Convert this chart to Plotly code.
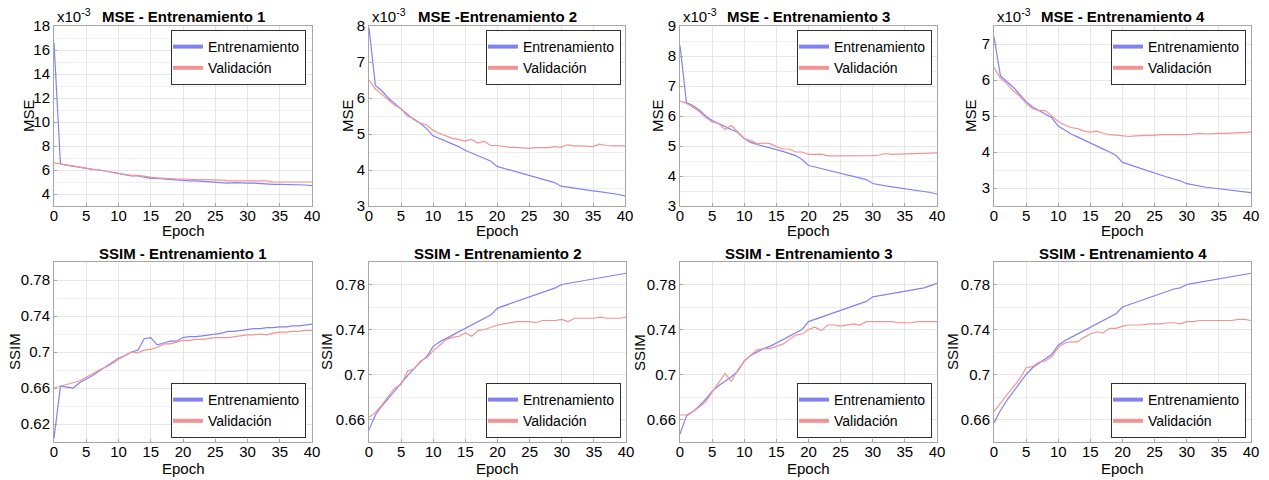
import plotly.graph_objects as go

# ---------------- data ----------------
epochs = list(range(0, 41))

# MSE values in units of 1e-3
mse1_train = [16.6, 6.5, 6.4, 6.3, 6.25, 6.15, 6.05, 6.0, 5.9, 5.8,
              5.7, 5.6, 5.5, 5.5, 5.4, 5.3, 5.3, 5.25, 5.2, 5.15,
              5.1, 5.1, 5.1, 5.05, 5.0, 5.0, 4.95, 4.9, 4.95, 4.9,
              4.9, 4.9, 4.85, 4.8, 4.8, 4.8, 4.8, 4.8, 4.8, 4.75,
              4.7]
mse1_val = [6.6, 6.5, 6.45, 6.35, 6.25, 6.1, 6.05, 6.0, 5.9, 5.8,
            5.7, 5.6, 5.55, 5.55, 5.45, 5.4, 5.35, 5.3, 5.25, 5.25,
            5.25, 5.2, 5.2, 5.2, 5.2, 5.2, 5.15, 5.1, 5.1, 5.1,
            5.1, 5.1, 5.1, 5.1, 5.0, 5.0, 5.0, 5.0, 5.0, 5.0,
            5.0]
mse2_train = [7.95, 6.35, 6.2, 6.0, 5.85, 5.7, 5.55, 5.4, 5.3, 5.15,
              4.95, 4.88, 4.8, 4.72, 4.65, 4.55, 4.48, 4.4, 4.33, 4.25,
              4.1, 4.05, 4.0, 3.95, 3.9, 3.85, 3.8, 3.75, 3.7, 3.65,
              3.55, 3.52, 3.5, 3.47, 3.45, 3.42, 3.4, 3.38, 3.35, 3.32,
              3.28]
mse2_val = [6.5, 6.25, 6.1, 5.95, 5.8, 5.7, 5.5, 5.42, 5.3, 5.25,
            5.1, 5.02, 4.95, 4.88, 4.85, 4.8, 4.85, 4.75, 4.8, 4.68,
            4.68, 4.65, 4.63, 4.63, 4.62, 4.6, 4.62, 4.62, 4.62, 4.65,
            4.63, 4.7, 4.67, 4.67, 4.65, 4.65, 4.72, 4.68, 4.67, 4.67,
            4.67]
mse3_train = [8.35, 6.45, 6.35, 6.2, 6.0, 5.85, 5.75, 5.65, 5.55, 5.45,
              5.25, 5.12, 5.05, 5.0, 4.95, 4.88, 4.82, 4.75, 4.68, 4.55,
              4.35, 4.3, 4.25, 4.2, 4.15, 4.1, 4.05, 4.0, 3.95, 3.88,
              3.75, 3.7, 3.67, 3.64, 3.61, 3.58, 3.55, 3.52, 3.49, 3.45,
              3.4]
mse3_val = [6.5, 6.42, 6.3, 6.15, 5.95, 5.8, 5.75, 5.55, 5.68, 5.45,
            5.25, 5.18, 5.08, 5.1, 5.08, 4.98, 4.9, 4.9, 4.8, 4.8,
            4.72, 4.72, 4.73, 4.67, 4.67, 4.68, 4.68, 4.67, 4.68, 4.68,
            4.68, 4.7, 4.75, 4.72, 4.73, 4.73, 4.75, 4.75, 4.75, 4.78,
            4.77]
mse4_train = [7.2, 6.12, 5.95, 5.8, 5.6, 5.4, 5.25, 5.15, 5.05, 4.95,
              4.72, 4.6, 4.5, 4.42, 4.33, 4.25, 4.17, 4.08, 4.0, 3.9,
              3.71, 3.65, 3.58, 3.52, 3.46, 3.4, 3.35, 3.3, 3.25, 3.2,
              3.12, 3.08, 3.05, 3.02, 3.0, 2.98, 2.96, 2.94, 2.92, 2.9,
              2.87]
mse4_val = [6.35, 6.05, 5.9, 5.7, 5.55, 5.35, 5.2, 5.15, 5.15, 5.0,
            4.85, 4.75, 4.68, 4.65, 4.58, 4.55, 4.58, 4.52, 4.48, 4.47,
            4.45, 4.43, 4.45, 4.45, 4.46, 4.47, 4.48, 4.48, 4.47, 4.48,
            4.48, 4.5, 4.52, 4.5, 4.52, 4.52, 4.52, 4.53, 4.54, 4.56,
            4.55]

ssim1_train = [0.604, 0.662, 0.661, 0.660, 0.666, 0.670, 0.674, 0.679, 0.684, 0.688,
               0.693, 0.696, 0.700, 0.702, 0.715, 0.716, 0.708, 0.710, 0.712, 0.712,
               0.716, 0.717, 0.717, 0.718, 0.719, 0.720, 0.721, 0.723, 0.723, 0.724,
               0.725, 0.726, 0.726, 0.727, 0.727, 0.728, 0.728, 0.729, 0.729, 0.730,
               0.731]
ssim1_val = [0.660, 0.662, 0.664, 0.666, 0.668, 0.672, 0.676, 0.680, 0.683, 0.687,
             0.692, 0.696, 0.700, 0.699, 0.702, 0.703, 0.705, 0.709, 0.709, 0.711,
             0.713, 0.713, 0.714, 0.714, 0.715, 0.716, 0.716, 0.716, 0.717, 0.718,
             0.719, 0.719, 0.720, 0.719, 0.721, 0.722, 0.722, 0.723, 0.723, 0.724,
             0.724]
ssim2_train = [0.651, 0.664, 0.672, 0.679, 0.686, 0.692, 0.699, 0.705, 0.711, 0.716,
               0.725, 0.729, 0.732, 0.735, 0.738, 0.741, 0.744, 0.747, 0.750, 0.753,
               0.759, 0.761, 0.763, 0.765, 0.767, 0.769, 0.771, 0.773, 0.775, 0.777,
               0.780, 0.781, 0.782, 0.783, 0.784, 0.785, 0.786, 0.787, 0.788, 0.789,
               0.790]
ssim2_val = [0.662, 0.666, 0.673, 0.681, 0.688, 0.691, 0.703, 0.705, 0.712, 0.715,
             0.721, 0.726, 0.731, 0.733, 0.734, 0.737, 0.734, 0.739, 0.740, 0.742,
             0.744, 0.745, 0.746, 0.747, 0.747, 0.747, 0.746, 0.748, 0.748, 0.748,
             0.749, 0.747, 0.750, 0.750, 0.750, 0.750, 0.751, 0.750, 0.750, 0.750,
             0.751]
ssim3_train = [0.647, 0.663, 0.667, 0.672, 0.678, 0.685, 0.690, 0.694, 0.698, 0.703,
               0.712, 0.717, 0.720, 0.723, 0.725, 0.728, 0.731, 0.734, 0.737, 0.740,
               0.747, 0.749, 0.751, 0.753, 0.755, 0.757, 0.759, 0.761, 0.763, 0.765,
               0.769, 0.770, 0.771, 0.772, 0.773, 0.774, 0.775, 0.776, 0.777, 0.779,
               0.781]
ssim3_val = [0.664, 0.664, 0.667, 0.671, 0.676, 0.684, 0.692, 0.701, 0.694, 0.704,
             0.712, 0.717, 0.722, 0.723, 0.723, 0.725, 0.727, 0.731, 0.735, 0.736,
             0.740, 0.742, 0.739, 0.744, 0.744, 0.743, 0.744, 0.745, 0.744, 0.747,
             0.747, 0.747, 0.747, 0.747, 0.746, 0.746, 0.746, 0.747, 0.747, 0.747,
             0.747]
ssim4_train = [0.657, 0.668, 0.677, 0.685, 0.692, 0.700, 0.706, 0.710, 0.714, 0.718,
               0.726, 0.730, 0.733, 0.736, 0.739, 0.742, 0.745, 0.748, 0.751, 0.754,
               0.760, 0.762, 0.764, 0.766, 0.768, 0.770, 0.772, 0.774, 0.776, 0.777,
               0.780, 0.781, 0.782, 0.783, 0.784, 0.785, 0.786, 0.787, 0.788, 0.789,
               0.790]
ssim4_val = [0.667, 0.675, 0.682, 0.689, 0.696, 0.706, 0.707, 0.711, 0.712, 0.716,
             0.724, 0.728, 0.729, 0.729, 0.733, 0.736, 0.738, 0.737, 0.741, 0.741,
             0.743, 0.744, 0.744, 0.744, 0.745, 0.745, 0.745, 0.746, 0.746, 0.745,
             0.747, 0.747, 0.748, 0.748, 0.748, 0.748, 0.748, 0.748, 0.749, 0.749,
             0.748]

titles = ["MSE - Entrenamiento 1", "MSE -Entrenamiento 2", "MSE - Entrenamiento 3",
          "MSE - Entrenamiento 4", "SSIM - Entrenamiento 1", "SSIM - Entrenamiento 2",
          "SSIM - Entrenamiento 3", "SSIM - Entrenamiento 4"]
series_names = ["Entrenamiento", "Validación"]
x_label = "Epoch"
exp_label = "x10<sup>-3</sup>"

# ---------------- styling / layout ----------------
W, H = 1269, 480
FONT = "Arial, Liberation Sans, sans-serif"
BLUE = "#8282f4"
RED = "#f39494"
AXIS = "#a6a6a6"
GRID = "#e6e6e6"
MINOR = "#eeeeee"

panels = [
    dict(tr=mse1_train, va=mse1_val, yl="MSE", yr=[3, 18], t0=0, dt=2, mdt=1, xpx=(54, 312), row=0, ylx=28, leg_r=306),
    dict(tr=mse2_train, va=mse2_val, yl="MSE", yr=[3, 8], t0=0, dt=1, mdt=0.5, xpx=(369, 625), row=0, ylx=347, leg_r=621),
    dict(tr=mse3_train, va=mse3_val, yl="MSE", yr=[3, 9], t0=0, dt=1, mdt=0.5, xpx=(680, 937), row=0, ylx=657, leg_r=932),
    dict(tr=mse4_train, va=mse4_val, yl="MSE", yr=[2.5, 7.5], t0=0, dt=1, mdt=0.5, xpx=(994, 1251), row=0, ylx=970, leg_r=1246),
    dict(tr=ssim1_train, va=ssim1_val, yl="SSIM", yr=[0.6, 0.8], t0=0.62, dt=0.04, mdt=0.02, xpx=(54, 312), row=1, ylx=14, leg_r=306),
    dict(tr=ssim2_train, va=ssim2_val, yl="SSIM", yr=[0.64, 0.8], t0=0.62, dt=0.04, mdt=0.02, xpx=(369, 626), row=1, ylx=326, leg_r=621),
    dict(tr=ssim3_train, va=ssim3_val, yl="SSIM", yr=[0.64, 0.8], t0=0.62, dt=0.04, mdt=0.02, xpx=(680, 937), row=1, ylx=639, leg_r=932),
    dict(tr=ssim4_train, va=ssim4_val, yl="SSIM", yr=[0.64, 0.8], t0=0.62, dt=0.04, mdt=0.02, xpx=(994, 1251), row=1, ylx=952, leg_r=1246),
]
rows_px = [(26, 206), (262, 442)]


def px_x(v):
    return v / W


def px_y(v):
    return 1 - v / H


fig = go.Figure()
layout = dict(
    width=W, height=H, margin=dict(l=0, r=0, t=0, b=0, autoexpand=False),
    paper_bgcolor="white", plot_bgcolor="white",
    font=dict(family=FONT, size=15, color="black"),
    showlegend=True,
)
annotations = []

for i, p in enumerate(panels):
    n = i + 1
    xa = "x" if n == 1 else f"x{n}"
    ya = "y" if n == 1 else f"y{n}"
    leg = "legend" if n == 1 else f"legend{n}"
    top, bot = rows_px[p["row"]]
    x0, x1 = p["xpx"]

    for vals, name, col in ((p["tr"], series_names[0], BLUE), (p["va"], series_names[1], RED)):
        fig.add_trace(go.Scatter(x=epochs, y=vals, mode="lines", name=name,
                                 line=dict(color=col, width=1.2), xaxis=xa, yaxis=ya,
                                 showlegend=False, hoverinfo="skip"))
    # legend entries (thicker sample lines, as in the original legend)
    for name, col in ((series_names[0], BLUE), (series_names[1], RED)):
        fig.add_trace(go.Scatter(x=[None], y=[None], mode="lines", name=name,
                                 line=dict(color=col, width=4), xaxis=xa, yaxis=ya,
                                 legend=leg, showlegend=True))

    layout[f"xaxis{'' if n == 1 else n}"] = dict(
        domain=[px_x(x0), px_x(x1)], anchor=ya, range=[0, 40], dtick=5, tick0=0,
        showline=True, mirror=True, linecolor=AXIS, linewidth=1,
        ticks="inside", ticklen=3, tickcolor=AXIS, ticklabelstandoff=-4,
        showgrid=True, gridcolor=GRID, zeroline=False,
        tickfont=dict(size=15, color="black"), fixedrange=True,
    )
    layout[f"yaxis{'' if n == 1 else n}"] = dict(
        domain=[px_y(bot), px_y(top)], anchor=xa, range=p["yr"], dtick=p["dt"], tick0=p["t0"],
        showline=True, mirror=True, linecolor=AXIS, linewidth=1,
        ticks="inside", ticklen=3, tickcolor=AXIS,
        showgrid=True, gridcolor=GRID, zeroline=False,
        minor=dict(dtick=p["mdt"], tick0=p["t0"], showgrid=True, gridcolor=MINOR, ticks=""),
        tickfont=dict(size=15, color="black"), fixedrange=True,
    )
    if p["row"] == 0:
        legend_pos = dict(y=px_y(30), yanchor="top")
    else:
        legend_pos = dict(y=px_y(438), yanchor="bottom")
    layout[leg] = dict(x=px_x(p["leg_r"]), xanchor="right", bgcolor="white",
                       bordercolor="#303030", borderwidth=1,
                       font=dict(size=14, color="black"), itemwidth=30,
                       indentation=-4, tracegroupgap=0, **legend_pos)

    cx = (x0 + x1) / 2
    title_y = 17 if p["row"] == 0 else 253
    annotations.append(dict(text=f"<b>{titles[i]}</b>", x=px_x(cx), y=px_y(title_y),
                            xref="paper", yref="paper", xanchor="center", yanchor="middle",
                            showarrow=False, font=dict(size=15, color="black")))
    epoch_y = 231 if p["row"] == 0 else 468
    annotations.append(dict(text=x_label, x=px_x(cx), y=px_y(epoch_y), xref="paper", yref="paper",
                            xanchor="center", yanchor="middle", showarrow=False,
                            font=dict(size=15, color="black")))
    annotations.append(dict(text=p["yl"], x=px_x(p["ylx"]), y=px_y((top + bot) / 2),
                            xref="paper", yref="paper", xanchor="center", yanchor="middle",
                            textangle=-90, showarrow=False, font=dict(size=15, color="black")))
    if p["row"] == 0:
        annotations.append(dict(text=exp_label, x=px_x(x0 + 1), y=px_y(16), xref="paper", yref="paper",
                                xanchor="left", yanchor="middle", showarrow=False,
                                font=dict(size=15, color="black")))

layout["annotations"] = annotations
fig.update_layout(**layout)
fig.write_html("out.html", config={"displayModeBar": False},
               post_script="document.body.style.margin='0';document.body.style.overflow='hidden';")
